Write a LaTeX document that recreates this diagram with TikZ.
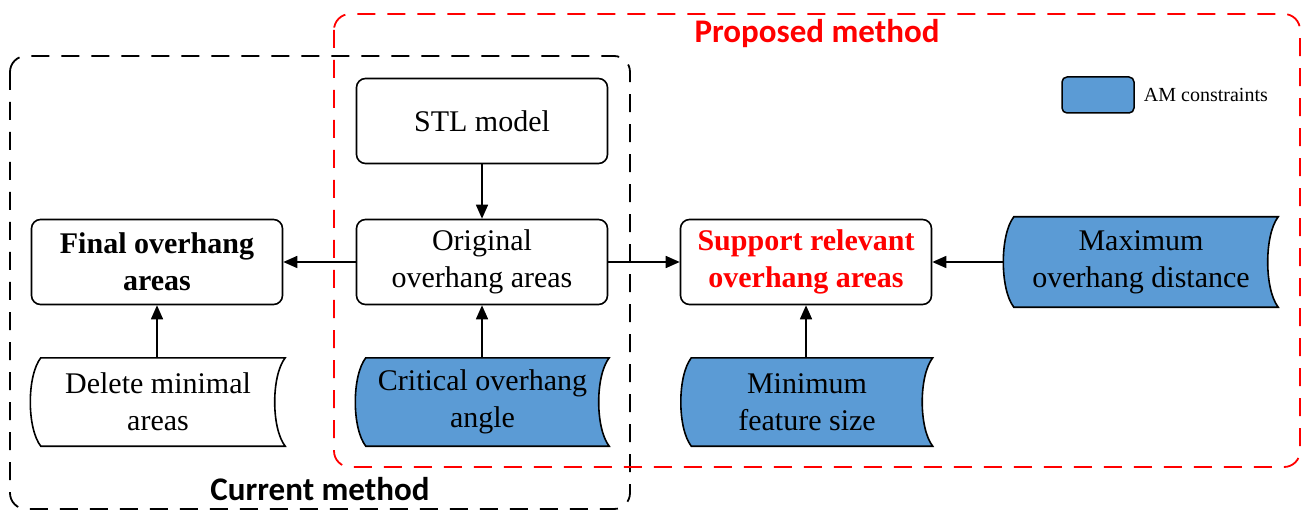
\documentclass[tikz,border=0pt]{standalone}
\usepackage{fontspec}
\setmainfont{Liberation Serif}
\newfontfamily\labfont{Carlito}
\usetikzlibrary{arrows.meta,backgrounds}
\definecolor{amblue}{HTML}{5B9BD5}
\definecolor{pred}{HTML}{FF0000}
\begin{document}
\begin{tikzpicture}[x=1pt,y=-1pt,
 every node/.style={inner sep=0pt},
 txt/.style={font=\fontsize{30}{37}\selectfont},
 boldtxt/.style={font=\fontsize{30}{37}\selectfont\bfseries},
 proc/.style={draw, line width=1.6pt, rounded corners=9pt, minimum width=251pt, minimum height=85pt, align=center, txt},
 store/.style={minimum height=88pt, align=center, txt},
 storeline/.style={draw, line width=1.6pt, fill=amblue},
 arr/.style={line width=1.6pt, -{Triangle[length=14pt,width=12pt]}},
 groupbox/.style={line width=1.8pt, dash pattern=on 18pt off 12pt, rounded corners=16pt},
 grouplabel/.style={font=\labfont\bfseries\fontsize{33}{40}\selectfont}
]
\useasboundingbox (0,0) rectangle (1305,510);

% group boxes
\draw[groupbox] (10,56) rectangle (630,509);
\draw[groupbox, pred] (334,14) rectangle (1300,467);
\node[grouplabel, text=pred] (plab) at (817,34) {Proposed method};
\node[grouplabel] (clab) at (320,489) {Current method};

% process nodes
\node[proc] (stl) at (482,121) {STL model};
\node[proc] (orig) at (482,262) {Original\\overhang areas};
\node[proc, boldtxt] (final) at (157,262) {Final overhang\\areas};
\node[proc, boldtxt, text=pred] (supp) at (806,262) {Support relevant\\overhang areas};

% stored-data nodes
\node[store, minimum width=254pt] (del) at (158,402) {Delete minimal\\areas};
\node[store, minimum width=253pt] (crit) at (482.5,402) {Critical overhang\\angle};
\node[store, minimum width=251pt] (mini) at (807,402) {Minimum\\feature size};
\node[store, minimum width=274pt, minimum height=90pt] (maxd) at (1141,262) {Maximum\\overhang distance};

\begin{scope}[on background layer]
\foreach \n/\f in {del/white,crit/amblue,mini/amblue,maxd/amblue}{
  \draw[storeline, fill=\f] ([xshift=10pt]\n.north west) .. controls +(-14,18) and +(-14,-18) .. ([xshift=10pt]\n.south west)
     -- (\n.south east) .. controls +(-14,-18) and +(-14,18) .. (\n.north east) -- cycle;
}
\end{scope}

% legend
\node[draw, line width=1.5pt, fill=amblue, rounded corners=5pt, minimum width=72pt, minimum height=36pt] (leg) at (1098,95) {};
\node[anchor=west, font=\fontsize{20}{24}\selectfont] (legt) at ([xshift=9pt]leg.east) {AM constraints};

% arrows
\draw[arr] (stl) -- (orig);
\draw[arr] (orig) -- (final);
\draw[arr] (orig) -- (supp);
\draw[arr] (maxd.west) -- (supp.east);
\draw[arr] (del.north -| final.south) -- (final.south);
\draw[arr] (crit.north -| orig.south) -- (orig.south);
\draw[arr] (mini.north -| supp.south) -- (supp.south);
\end{tikzpicture}
\end{document}
